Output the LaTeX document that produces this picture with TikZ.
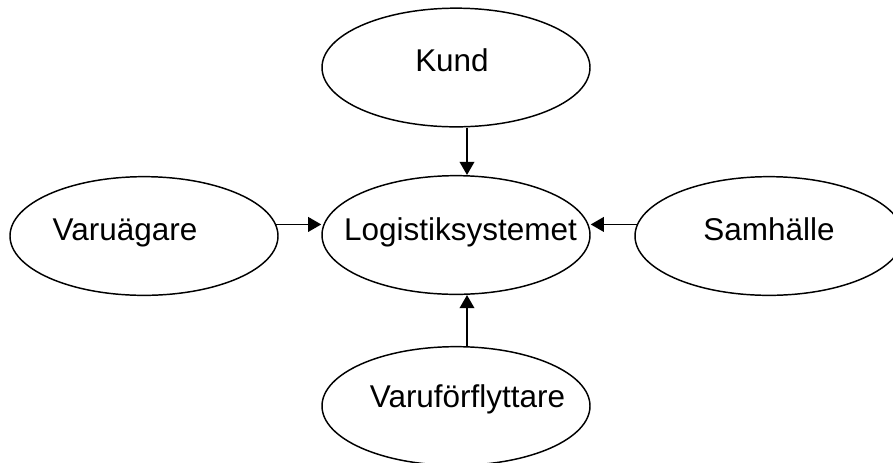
\documentclass[tikz,border=0pt]{standalone}
\usepackage{fontspec}
\setmainfont{Liberation Sans}
\usetikzlibrary{arrows.meta,shapes.geometric}
\tikzset{
  blob/.style    = {ellipse,draw,line width=1.1pt,minimum width=201pt,minimum height=89pt,inner sep=0pt},
  lbl/.style     = {anchor=base,inner sep=0pt,font=\fontsize{23.6}{28}\selectfont},
  flowarr/.style = {-{Triangle[length=9.8pt,width=11pt]},line width=1.1pt}
}

\begin{document}
\begin{tikzpicture}[x=0.75pt,y=-0.75pt]
  \useasboundingbox (0,0) rectangle (893,462);
  \clip (0,0) rectangle (893,462);
  \node[blob] (kund)   at (456,67.5) {};
  \node[blob] (logsys) at (456,235)  {};
  \node[blob] (agare)  at (144,236)  {};
  \node[blob] (samh)   at (769,236)  {};
  \node[blob] (flytt)  at (456,406)  {};
  \node[lbl] (kundtxt)   at (452,71.5)  {Kund};
  \node[lbl] (logsystxt) at (460.5,240) {Logistiksystemet};
  \node[lbl] (agaretxt)  at (125,240.5) {Varuägare};
  \node[lbl] (samhtxt)   at (769,240)   {Samhälle};
  \node[lbl] (flytttxt)  at (467.5,407) {Varuförflyttare};
  \draw[flowarr] ([xshift=8.25pt]kund.south)  -- ([xshift=8.25pt]logsys.north);
  \draw[flowarr] ([xshift=8.25pt]flytt.north) -- ([xshift=8.25pt]logsys.south);
  \draw[flowarr] (agare.5)  -- (agare.5 -| logsys.west);
  \draw[flowarr] (samh.175) -- (samh.175 -| logsys.east);
\end{tikzpicture}
\end{document}
